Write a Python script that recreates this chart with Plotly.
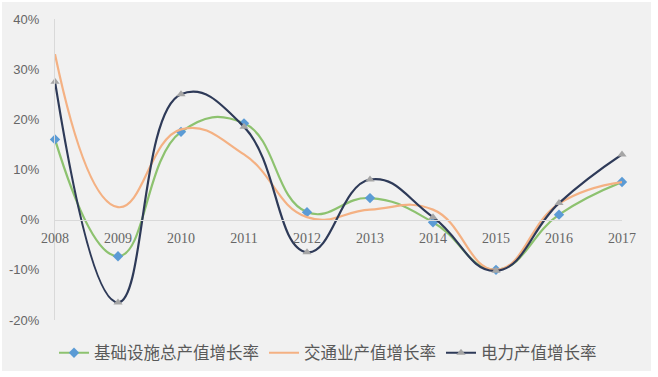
import plotly.graph_objects as go

years = ["2008", "2009", "2010", "2011", "2012", "2013", "2014", "2015", "2016", "2017"]
infra = [16.0, -7.3, 17.5, 19.2, 1.5, 4.3, -0.5, -10.0, 1.0, 7.5]
transport = [33.0, 2.5, 18.0, 13.0, 0.5, 2.0, 2.0, -10.0, 3.2, 7.5]
power = [27.5, -16.5, 25.0, 18.5, -6.5, 8.0, 0.5, -10.2, 3.3, 13.0]
names = ["基础设施总产值增长率", "交通业产值增长率", "电力产值增长率"]
y_ticks = [-20, -10, 0, 10, 20, 30, 40]
y_labels = ["-20%", "-10%", "0%", "10%", "20%", "30%", "40%"]

W, H = 658, 377
L, R, T, B = 55, 36, 19, 57
pw, ph = W - L - R, H - T - B
SM = 1.3

fig = go.Figure()
fig.add_trace(go.Scatter(
    x=years, y=infra, name=names[0], mode="lines+markers",
    line=dict(color="#8dc26f", width=2.2, shape="spline", smoothing=SM),
    marker=dict(symbol="diamond", size=8, color="#5b9bd5"),
    cliponaxis=False,
))
fig.add_trace(go.Scatter(
    x=years, y=transport, name=names[1], mode="lines",
    line=dict(color="#f4b183", width=2.2, shape="spline", smoothing=SM),
    cliponaxis=False,
))
fig.add_trace(go.Scatter(
    x=years, y=power, name=names[2], mode="lines+markers",
    line=dict(color="#2e3a58", width=2.2, shape="spline", smoothing=SM),
    marker=dict(symbol="triangle-up", size=8, color="#a5a5a5"),
    cliponaxis=False,
))

# light gray panel background (with thin white frame)
x0 = (2 - L) / pw
x1 = (651 - L) / pw
y1 = (H - B - 2) / ph
y0 = (H - B - 371) / ph
fig.add_shape(type="rect", xref="paper", yref="paper", x0=x0, x1=x1, y0=y0, y1=y1,
              fillcolor="#f1f1f1", line=dict(width=0), layer="below")

fig.update_layout(
    width=W, height=H,
    margin=dict(l=L, r=R, t=T, b=B, autoexpand=False),
    paper_bgcolor="white",
    plot_bgcolor="rgba(0,0,0,0)",
    font=dict(family="Liberation Sans", color="#666666"),
    showlegend=True,
    legend=dict(orientation="h", x=(328 - L) / pw, xanchor="center",
                y=(H - B - 353) / ph, yanchor="middle",
                font=dict(family="Noto Sans CJK SC", size=16.5, color="#595959"),
                bgcolor="rgba(0,0,0,0)", itemwidth=30, tracegroupgap=0),
    xaxis=dict(
        type="category", range=[0, 9], anchor="free", position=1/3,
        showline=True, linecolor="#d9d9d9", linewidth=1,
        showgrid=False, zeroline=False, ticks="",
        tickfont=dict(family="Liberation Serif", size=14, color="#666666"),
        ticklabelstandoff=6,
    ),
    yaxis=dict(
        range=[-20, 40], tickvals=y_ticks, ticktext=y_labels,
        showline=True, linecolor="#d9d9d9", linewidth=1,
        showgrid=False, zeroline=False, ticks="",
        tickfont=dict(family="Liberation Sans", size=13, color="#666666"),
        ticklabelstandoff=12,
    ),
)

fig.write_html("out.html")
